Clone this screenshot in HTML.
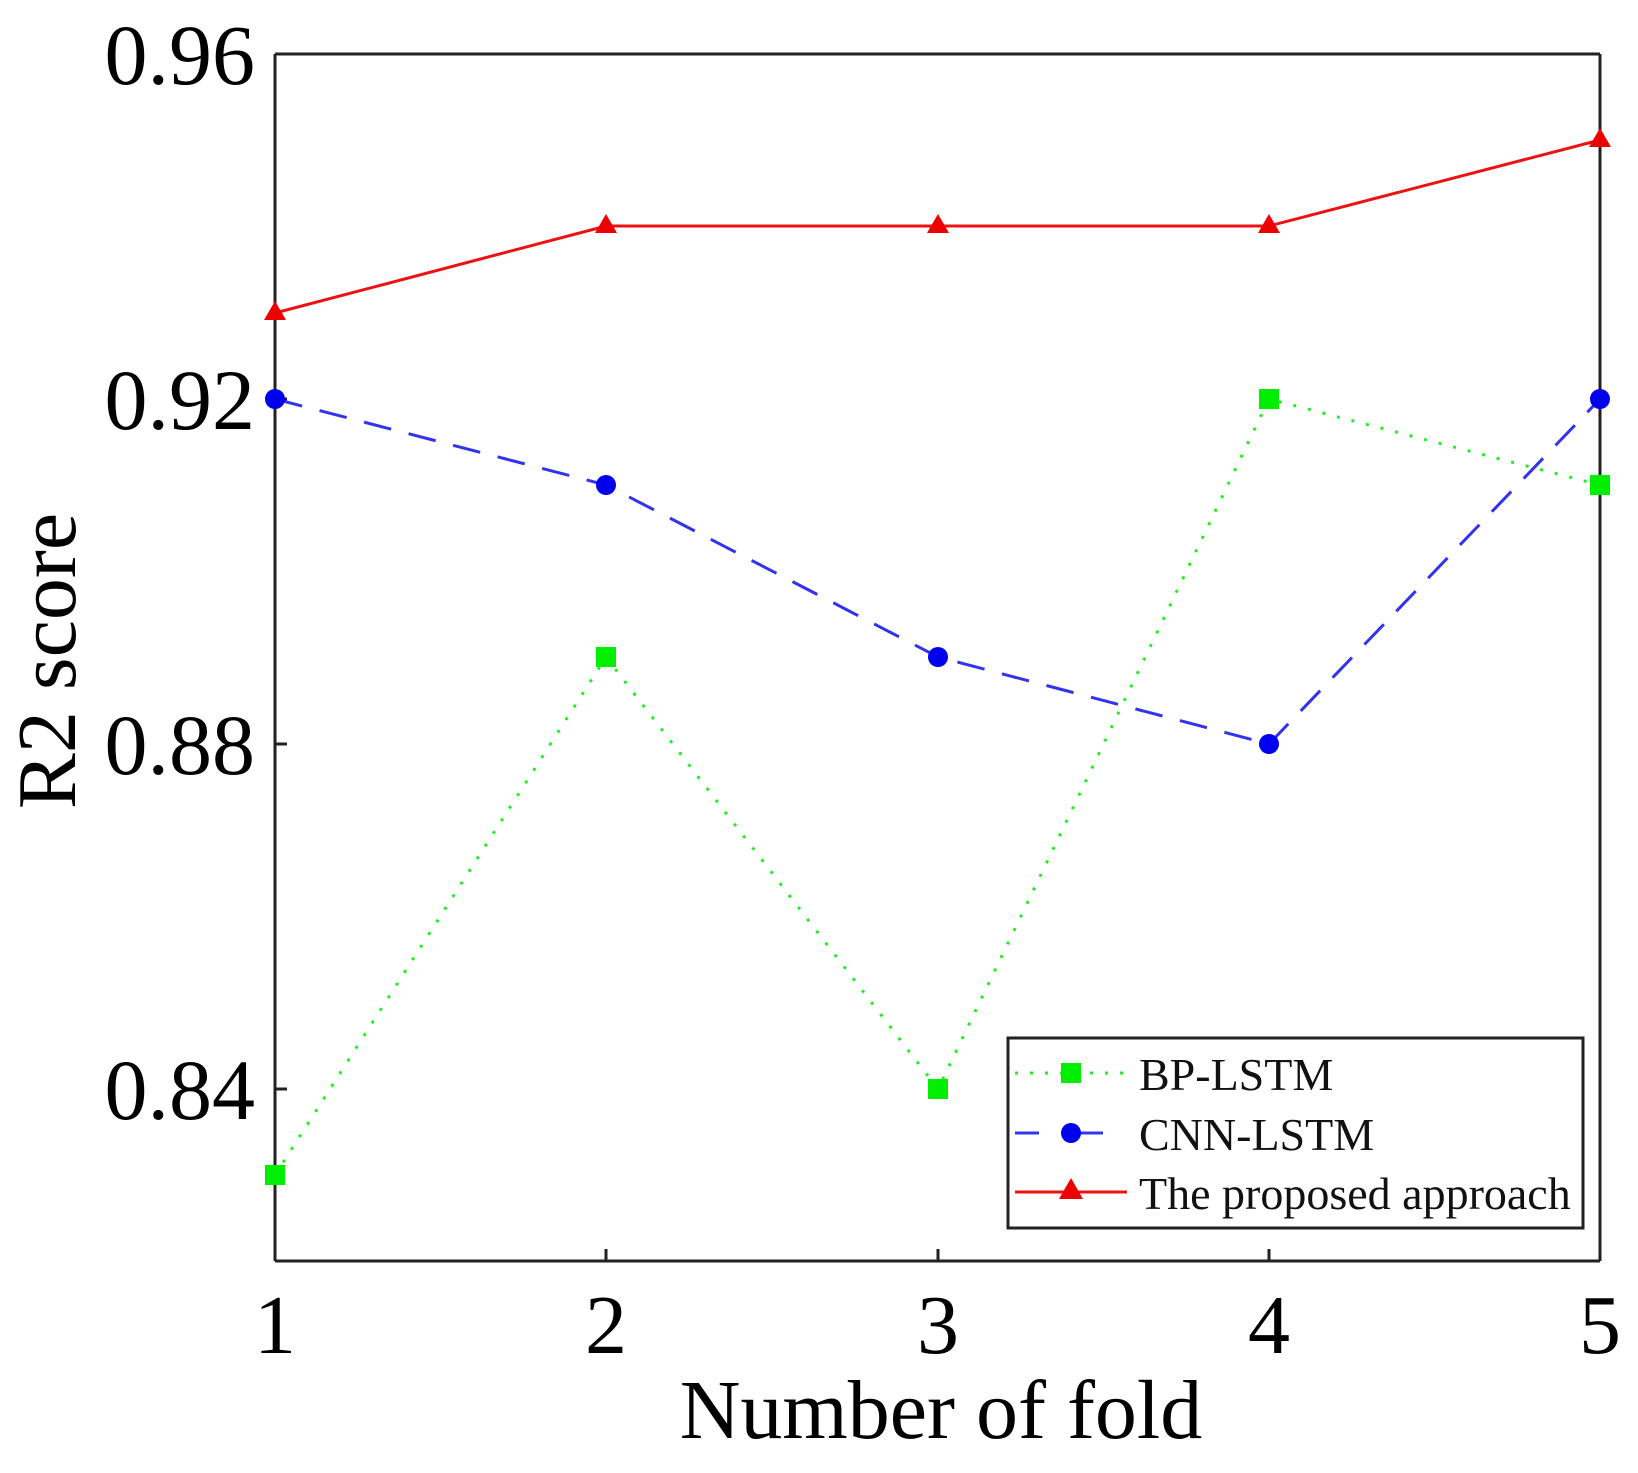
<!DOCTYPE html>
<html><head><style>body{margin:0;background:#fff}</style></head><body>
<svg width="1638" height="1468" xmlns="http://www.w3.org/2000/svg" font-family="Liberation Serif, serif">
<rect width="1638" height="1468" fill="#fff"/>
<g fill="#000" font-size="86" text-anchor="end">
<text x="255" y="84">0.96</text>
<text x="255" y="429">0.92</text>
<text x="255" y="774">0.88</text>
<text x="255" y="1119">0.84</text>
</g>
<g fill="#000" font-size="84" text-anchor="middle">
<text x="275" y="1353">1</text>
<text x="606" y="1353">2</text>
<text x="938" y="1353">3</text>
<text x="1269" y="1353">4</text>
<text x="1600" y="1353">5</text>
<text x="941" y="1438">Number of fold</text>
<text transform="translate(75,661) rotate(-90)">R2 score</text>
</g>
<g stroke="#222" stroke-width="3">
<line x1="275" y1="54" x2="275" y2="1261"/>
<line x1="275" y1="1261" x2="1600" y2="1261"/>
<line x1="1600" y1="54" x2="1600" y2="1261"/>
<line x1="275" y1="54" x2="1600" y2="54"/>
<line x1="275" y1="399" x2="287" y2="399"/><line x1="275" y1="744" x2="287" y2="744"/><line x1="275" y1="1089" x2="287" y2="1089"/>
<line x1="606" y1="1261" x2="606" y2="1249"/><line x1="938" y1="1261" x2="938" y2="1249"/><line x1="1269" y1="1261" x2="1269" y2="1249"/>
</g>
<polyline points="275,1175 606,657 938,1089 1269,399 1600,485" fill="none" stroke="#22ee22" stroke-width="3" stroke-dasharray="3,12"/>
<g fill="#00ee00"><rect x="265" y="1165" width="20" height="20"/><rect x="596" y="647" width="20" height="20"/><rect x="928" y="1079" width="20" height="20"/><rect x="1259" y="389" width="20" height="20"/><rect x="1590" y="475" width="20" height="20"/></g>
<polyline points="275,399 606,485 938,657 1269,744 1600,399" fill="none" stroke="#3333ee" stroke-width="3" stroke-dasharray="28,18"/>
<g fill="#0000ee"><circle cx="275" cy="399" r="10"/><circle cx="606" cy="485" r="10"/><circle cx="938" cy="657" r="10"/><circle cx="1269" cy="744" r="10"/><circle cx="1600" cy="399" r="10"/></g>
<polyline points="275,313 606,226 938,226 1269,226 1600,140" fill="none" stroke="#ee1111" stroke-width="3"/>
<g fill="#ee0000"><path d="M275,301 L286,320 L264,320Z"/><path d="M606,214 L617,233 L595,233Z"/><path d="M938,214 L949,233 L927,233Z"/><path d="M1269,214 L1280,233 L1258,233Z"/><path d="M1600,128 L1611,147 L1589,147Z"/></g>
<rect x="1008" y="1038" width="575" height="190" fill="#fff" stroke="#222" stroke-width="3"/>
<line x1="1015" y1="1073" x2="1127" y2="1073" stroke="#22ee22" stroke-width="3" stroke-dasharray="3,12"/>
<rect x="1061" y="1063" width="20" height="20" fill="#00ee00"/>
<line x1="1015" y1="1133" x2="1127" y2="1133" stroke="#3333ee" stroke-width="3" stroke-dasharray="24,40"/>
<circle cx="1071" cy="1133" r="10" fill="#0000ee"/>
<line x1="1015" y1="1192" x2="1127" y2="1192" stroke="#ee1111" stroke-width="3"/>
<path d="M1071,1178 L1083,1199 L1059,1199Z" fill="#ee0000"/>
<g font-size="46" fill="#111">
<text x="1139" y="1090">BP-LSTM</text>
<text x="1139" y="1150">CNN-LSTM</text>
<text x="1139" y="1209">The proposed approach</text>
</g>
</svg>
</body></html>
